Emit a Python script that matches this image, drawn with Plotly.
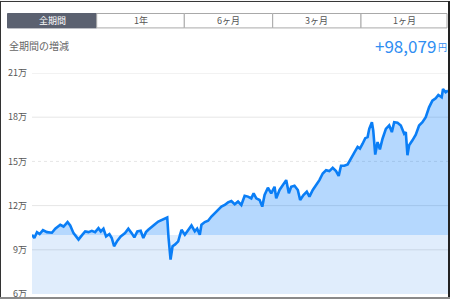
import numpy as np
import plotly.graph_objects as go

# ---- data (values in 万円) ----
days = [5, 12, 20, 28, 38, 50, 65, 75, 90, 100, 112, 120, 130, 145, 155, 165, 175, 185, 195, 205,
        212, 220, 228, 238, 245, 252, 262, 272, 285, 295, 305, 313, 322, 332, 340, 348, 355, 365, 375, 385,
        395, 405, 412, 416, 422, 428, 435, 445, 455, 465, 475, 485, 495, 502, 510, 515, 525, 535, 545, 555,
        565, 575, 585, 595, 605, 615, 625, 635, 645, 655, 665, 672, 680, 690, 698, 705, 715, 725, 735, 740,
        750, 760, 770, 778, 785, 795, 805, 812, 822, 832, 840, 850, 860, 870, 880, 890, 900, 910, 920, 928,
        935, 945, 955, 965, 975, 985, 992, 1000, 1008, 1015, 1020, 1028, 1032, 1038, 1045, 1052, 1060, 1070, 1080, 1088,
        1095, 1105, 1115, 1125, 1130, 1135, 1140, 1150, 1160, 1170, 1180, 1190, 1200, 1210, 1220, 1228, 1238, 1242, 1250, 1257]
values = [10.02, 9.80, 10.20, 10.07, 10.34, 10.20, 10.16, 10.43, 10.70, 10.58, 10.88, 10.65, 10.13, 9.69, 9.98, 10.25, 10.20, 10.29, 10.20, 10.47,
          10.25, 10.43, 9.91, 10.07, 9.80, 9.24, 9.62, 9.91, 10.13, 10.43, 10.13, 9.84, 10.25, 10.29, 9.80, 10.20, 10.36, 10.58, 10.74, 10.92,
          11.03, 11.15, 11.19, 9.80, 8.34, 9.24, 9.35, 9.57, 10.36, 10.02, 10.36, 10.65, 10.25, 10.43, 10.02, 10.70, 10.88, 10.97, 11.26, 11.48,
          11.71, 11.93, 12.04, 12.22, 12.31, 12.09, 12.27, 12.04, 12.67, 12.61, 12.49, 12.83, 12.49, 12.38, 11.93, 12.72, 13.21, 12.83, 13.28, 12.49,
          13.06, 13.39, 13.73, 12.83, 13.28, 13.35, 13.06, 12.38, 12.72, 12.94, 12.61, 13.06, 13.39, 13.73, 14.18, 14.40, 14.34, 14.56, 14.34, 14.02,
          14.70, 14.70, 14.79, 15.24, 15.60, 15.98, 15.87, 16.20, 16.58, 16.65, 17.21, 17.66, 17.10, 15.46, 16.31, 15.82, 16.54, 17.21, 17.44, 16.99,
          17.66, 17.62, 17.44, 16.88, 16.99, 15.42, 16.09, 16.43, 16.81, 17.44, 17.66, 18.00, 18.67, 19.12, 19.28, 19.51, 19.35, 19.91, 19.69, 19.81]
base_value = 10.0
tick_vals = [6, 9, 12, 15, 18, 21]
tick_text = ["6万", "9万", "12万", "15万", "18万", "21万"]
tabs = ["全期間", "1年", "6ヶ月", "3ヶ月", "1ヶ月"]
title_label = "全期間の増減"
gain_text = "+98,079"
unit_text = "円"

W, H = 450, 302
ML, MR, MT, MB = 32, 2, 73, 5
PW, PH = W - ML - MR, H - MT - MB
FONT = "Noto Sans CJK JP"


def px(x):
    return (x - ML) / PW


def py(y):
    return (H - MB - y) / PH


v = np.array(values)
base = np.full(len(days), base_value)

fig = go.Figure()
fig.add_trace(go.Scatter(x=days, y=base, mode="lines", line=dict(width=0, color="rgba(0,0,0,0)"),
                         fill="tozeroy", fillcolor="rgba(0,110,230,0.12)", hoverinfo="skip"))
fig.add_trace(go.Scatter(x=days, y=np.maximum(v, base), mode="lines", line=dict(width=0, color="rgba(0,0,0,0)"),
                         fill="tonexty", fillcolor="rgba(0,120,250,0.29)", hoverinfo="skip"))
fig.add_trace(go.Scatter(x=days, y=v, mode="lines", line=dict(width=2.6, color="#0a7ef6")))

shapes = []
for t in tick_vals[1:]:
    shapes.append(dict(type="line", xref="paper", yref="y", x0=0, x1=1, y0=t, y1=t, layer="below",
                       line=dict(color="#e6e6e6", width=1, dash="dot" if t == 15 else "solid")))

# tabs
edges = [7.5, 96.7, 184.3, 272.7, 361, 447]
annotations = []
for i, name in enumerate(tabs):
    x0, x1 = edges[i], edges[i + 1]
    shapes.append(dict(type="rect", xref="paper", yref="paper", x0=px(x0), x1=px(x1), y0=py(27.3), y1=py(12.7),
                       fillcolor="#5b6170" if i == 0 else "#ffffff",
                       line=dict(color="#5b6170" if i == 0 else "#a9a9a9", width=1), layer="above"))
    annotations.append(dict(xref="paper", yref="paper", x=px((x0 + x1) / 2), y=py(20), text=name, showarrow=False,
                            xanchor="center", yanchor="middle",
                            font=dict(family=FONT, size=9, color="#ffffff" if i == 0 else "#555555")))

annotations.append(dict(xref="paper", yref="paper", x=px(7), y=py(45), text=title_label, showarrow=False,
                        xanchor="left", yanchor="middle", font=dict(family=FONT, size=10, color="#666666")))
annotations.append(dict(xref="paper", yref="paper", x=px(437.5), y=py(45), text=gain_text, showarrow=False,
                        xanchor="right", yanchor="middle", font=dict(family=FONT, size=17, color="#2f8ef2")))
annotations.append(dict(xref="paper", yref="paper", x=px(436), y=py(47), text=unit_text, showarrow=False,
                        xanchor="left", yanchor="middle", font=dict(family=FONT, size=9, color="#2f8ef2")))

# frame
shapes.append(dict(type="line", xref="paper", yref="paper", x0=px(0.5), x1=px(0.5), y0=py(0), y1=py(302), line=dict(color="#333333", width=1), layer="above"))
shapes.append(dict(type="line", xref="paper", yref="paper", x0=px(0), x1=px(450), y0=py(0.5), y1=py(0.5), line=dict(color="#333333", width=1), layer="above"))
shapes.append(dict(type="line", xref="paper", yref="paper", x0=px(449), x1=px(449), y0=py(0), y1=py(302), line=dict(color="#222222", width=2), layer="above"))
shapes.append(dict(type="line", xref="paper", yref="paper", x0=px(0), x1=px(450), y0=py(301), y1=py(301), line=dict(color="#8a8a8a", width=2), layer="above"))

fig.update_layout(
    width=W, height=H, margin=dict(l=ML, r=MR, t=MT, b=MB),
    paper_bgcolor="#ffffff", plot_bgcolor="#ffffff", showlegend=False,
    xaxis=dict(range=[days[0], days[-1]], showgrid=False, zeroline=False, showticklabels=False, showline=False),
    yaxis=dict(range=[6, 21], showgrid=False, zeroline=False, tickvals=tick_vals, ticktext=tick_text,
               tickfont=dict(family=FONT, size=9, color="#555555"), ticks="", showline=False, ticklabelstandoff=4,
               ticklabeloverflow="allow"),
    shapes=shapes, annotations=annotations,
)

fig.write_html("out.html")
